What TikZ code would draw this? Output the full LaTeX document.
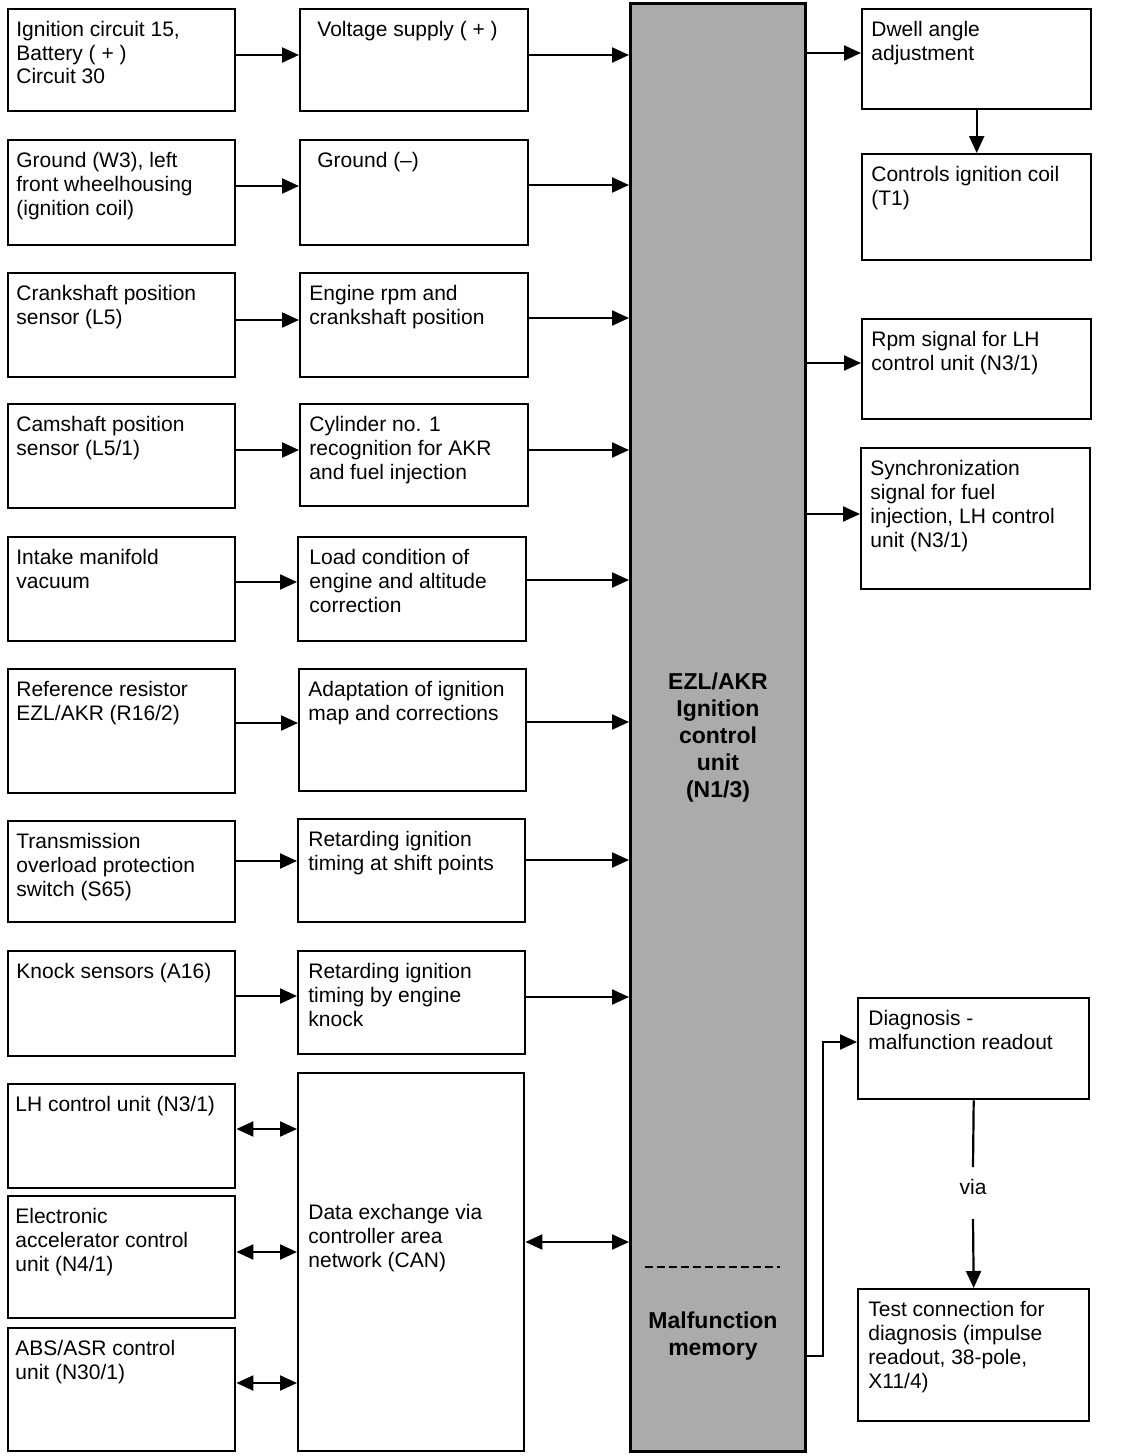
\documentclass[tikz,border=0pt]{standalone}
\usepackage{fontspec}
\setmainfont{Liberation Sans}
\usetikzlibrary{arrows.meta,calc}
\tikzset{
  box/.style={draw, line width=1.2pt, rectangle, inner sep=0pt, fill=white},
  txt/.style={font=\fontsize{10.5}{12}\selectfont, inner sep=0pt},
  arr/.style={line width=1.1pt, -{Triangle[length=8.5pt,width=7.5pt]}},
  darr/.style={line width=1.1pt, {Triangle[length=8.5pt,width=7.5pt]}-{Triangle[length=8.5pt,width=7.5pt]}},
  ecutxt/.style={font=\fontsize{11.5}{13.5}\selectfont\bfseries, inner sep=0pt},
  ecubox/.style={draw, line width=1.4pt, fill=black!33, inner sep=0pt},
}
\newcommand\lefttext[1]{\begin{tabular}[t]{@{}l@{}}#1\end{tabular}}
\newcommand\centretext[1]{\begin{tabular}[t]{@{}c@{}}#1\end{tabular}}
\newcommand\drawbox[7]{%
  \node[box, anchor=north west, minimum width=#4, minimum height=#5] (#1) at (#2,#3) {};
  \node[txt, anchor=base west] (#1t) at ([xshift=#6, yshift=-14pt]#1.north west) {\lefttext{#7}};
}
\begin{document}
\begin{tikzpicture}[x=0.5pt, y=-0.5pt]
\fill[white] (0,0) rectangle (1120,1456);
\useasboundingbox (0,0) rectangle (1120,1456);

% central unit
\node[ecubox, anchor=north west, minimum width=87.5pt, minimum height=724pt] (ECU) at (629,2) {};
\draw[line width=1pt, dash pattern=on 4pt off 2pt] (645,1267) -- (780,1267);
\node[ecutxt, anchor=base] (ecut) at (718,689) {\centretext{EZL/AKR\\Ignition\\control\\unit\\(N1/3)}};
\node[ecutxt, anchor=base] (mmt) at (713,1328) {\centretext{Malfunction\\memory}};

% left column
\drawbox{L1}{7}{8}{113.5pt}{51pt}{4.5pt}{Ignition circuit 15,\\Battery ( + )\\Circuit 30}
\drawbox{L2}{7}{139}{113.5pt}{52.5pt}{4.5pt}{Ground (W3), left\\front wheelhousing\\(ignition coil)}
\drawbox{L3}{7}{272}{113.5pt}{52pt}{4.5pt}{Crankshaft position\\sensor (L5)}
\drawbox{L4}{7}{403}{113.5pt}{52pt}{4.5pt}{Camshaft position\\sensor (L5/1)}
\drawbox{L5}{7}{536}{113.5pt}{52pt}{4.5pt}{Intake manifold\\vacuum}
\drawbox{L6}{7}{668}{113.5pt}{62pt}{4.5pt}{Reference resistor\\EZL/AKR (R16/2)}
\drawbox{L7}{7}{820}{113.5pt}{50.5pt}{4.5pt}{Transmission\\overload protection\\switch (S65)}
\drawbox{L8}{7}{950}{113.5pt}{52.5pt}{4.5pt}{Knock sensors (A16)}
\drawbox{L9}{7}{1083}{113.5pt}{52pt}{4pt}{LH control unit (N3/1)}
\drawbox{L10}{7}{1195}{113.5pt}{61pt}{4pt}{Electronic\\accelerator control\\unit (N4/1)}
\drawbox{L11}{7}{1327}{113.5pt}{61.5pt}{4pt}{ABS/ASR control\\unit (N30/1)}

% middle column
\drawbox{M1}{299}{8}{114pt}{51pt}{9pt}{Voltage supply ( + )}
\drawbox{M2}{299}{139}{114pt}{52.5pt}{9pt}{Ground (–)}
\drawbox{M3}{299}{272}{114pt}{52pt}{5pt}{Engine rpm and\\crankshaft position}
\drawbox{M4}{299}{403}{114pt}{51pt}{5pt}{Cylinder no. 1\\recognition for AKR\\and fuel injection}
\drawbox{M5}{297}{536}{114pt}{52pt}{6pt}{Load condition of\\engine and altitude\\correction}
\drawbox{M6}{298}{668}{113.5pt}{61pt}{5pt}{Adaptation of ignition\\map and corrections}
\drawbox{M7}{297}{818}{113.5pt}{51.5pt}{5.5pt}{Retarding ignition\\timing at shift points}
\drawbox{M8}{297}{950}{113.5pt}{51.5pt}{5.5pt}{Retarding ignition\\timing by engine\\knock}
\node[box, anchor=north west, minimum width=113pt, minimum height=189pt] (CAN) at (297,1072) {};
\node[txt, anchor=base west] (CANt) at ([xshift=5.5pt, yshift=-73.5pt]CAN.north west) {\lefttext{Data exchange via\\controller area\\network (CAN)}};

% right column
\drawbox{R1}{861}{8}{114.5pt}{50pt}{5pt}{Dwell angle\\adjustment}
\drawbox{R2}{861}{153}{114.5pt}{53pt}{5pt}{Controls ignition coil\\(T1)}
\drawbox{R3}{861}{318}{114.5pt}{50pt}{5pt}{Rpm signal for LH\\control unit (N3/1)}
\drawbox{R4}{860}{447}{114.5pt}{70.5pt}{5pt}{Synchronization\\signal for fuel\\injection, LH control\\unit (N3/1)}
\drawbox{R5}{857}{997}{115.5pt}{50.5pt}{5.5pt}{Diagnosis -\\malfunction readout}
\drawbox{R6}{857}{1288}{115.5pt}{66pt}{5.5pt}{Test connection for\\diagnosis (impulse\\readout, 38-pole,\\X11/4)}

% left -> middle
\draw[arr] ([yshift=-23.5pt]L1.north east) coordinate (a1) -- (a1 -| M1.west);
\draw[arr] ([yshift=-23.5pt]L2.north east) coordinate (a2) -- (a2 -| M2.west);
\draw[arr] ([yshift=-24pt]L3.north east) coordinate (a3) -- (a3 -| M3.west);
\draw[arr] ([yshift=-23.5pt]L4.north east) coordinate (a4) -- (a4 -| M4.west);
\draw[arr] ([yshift=-23pt]L5.north east) coordinate (a5) -- (a5 -| M5.west);
\draw[arr] ([yshift=-27.5pt]L6.north east) coordinate (a6) -- (a6 -| M6.west);
\draw[arr] ([yshift=-20.5pt]L7.north east) coordinate (a7) -- (a7 -| M7.west);
\draw[arr] ([yshift=-23pt]L8.north east) coordinate (a8) -- (a8 -| M8.west);

% middle -> ECU
\draw[arr] ([yshift=-23.5pt]M1.north east) coordinate (b1) -- (b1 -| ECU.west);
\draw[arr] ([yshift=-23pt]M2.north east) coordinate (b2) -- (b2 -| ECU.west);
\draw[arr] ([yshift=-23pt]M3.north east) coordinate (b3) -- (b3 -| ECU.west);
\draw[arr] ([yshift=-23.5pt]M4.north east) coordinate (b4) -- (b4 -| ECU.west);
\draw[arr] ([yshift=-22pt]M5.north east) coordinate (b5) -- (b5 -| ECU.west);
\draw[arr] ([yshift=-27pt]M6.north east) coordinate (b6) -- (b6 -| ECU.west);
\draw[arr] ([yshift=-21pt]M7.north east) coordinate (b7) -- (b7 -| ECU.west);
\draw[arr] ([yshift=-23.5pt]M8.north east) coordinate (b8) -- (b8 -| ECU.west);

% CAN links
\draw[darr] ([yshift=-23pt]L9.north east) coordinate (d1) -- (d1 -| CAN.west);
\draw[darr] ([yshift=-28.5pt]L10.north east) coordinate (d2) -- (d2 -| CAN.west);
\draw[darr] ([yshift=-28pt]L11.north east) coordinate (d3) -- (d3 -| CAN.west);
\draw[darr] ([yshift=-85pt]CAN.north east) coordinate (d0) -- (d0 -| ECU.west);

% ECU -> right
\path ([yshift=-22.5pt]R1.north west) coordinate (c1);
\draw[arr] (c1 -| ECU.east) -- (c1);
\path ([yshift=-22.5pt]R3.north west) coordinate (c3);
\draw[arr] (c3 -| ECU.east) -- (c3);
\path ([yshift=-33.5pt]R4.north west) coordinate (c4);
\draw[arr] (c4 -| ECU.east) -- (c4);
\draw[arr] (R1.south) -- (R2.north);

% diagnosis
\draw[arr] ([yshift=48.5pt]ECU.south east) -- ++(8pt,0) |- ([yshift=-22.5pt]R5.north west);
\node[txt, anchor=center] (via) at (973,1187) {via};
\draw[line width=1.1pt] (R5.south) -- ([yshift=10pt]via.center);
\draw[arr] ([yshift=-16pt]via.center) -- (R6.north);
\end{tikzpicture}
\end{document}
